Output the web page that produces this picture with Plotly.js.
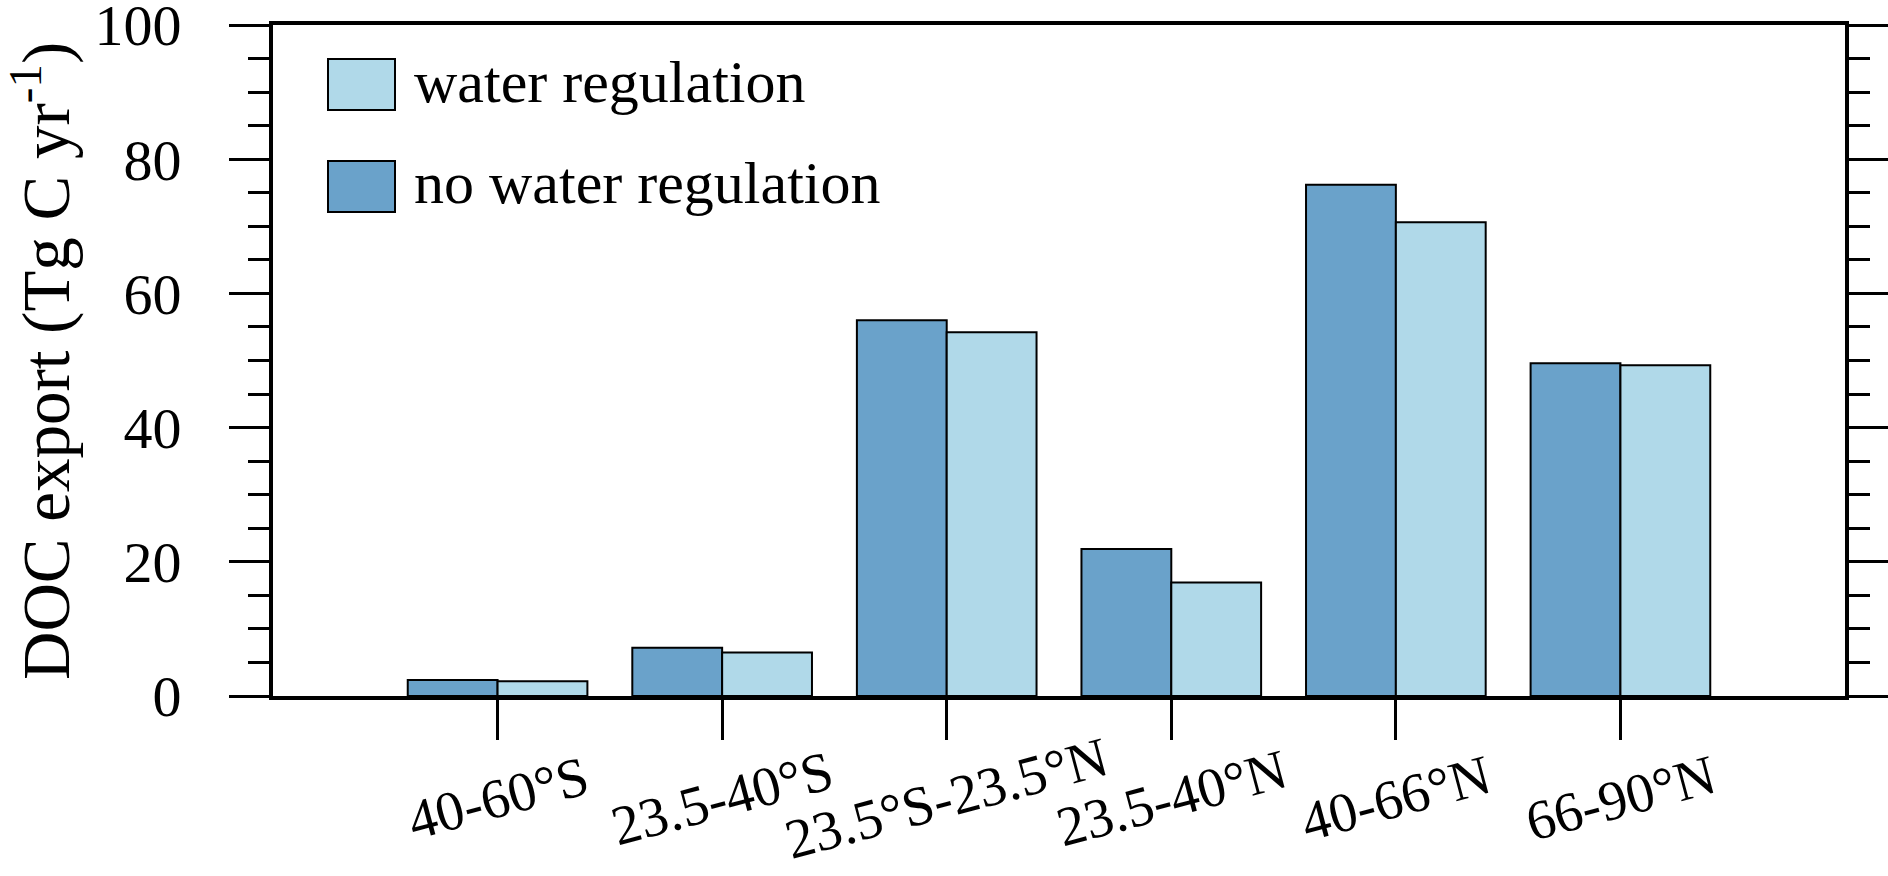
<!DOCTYPE html>
<html>
<head>
<meta charset="utf-8">
<script src="https://cdn.plot.ly/plotly-3.0.1.min.js"></script>
<style>
  html, body { margin: 0; padding: 0; background: #fff; }
  #chart { width: 1888px; height: 876px; }
</style>
</head>
<body>
<div id="chart"></div>
<script>
// ---- data ----
const categories = ['40-60°S', '23.5-40°S', '23.5°S-23.5°N', '23.5-40°N', '40-66°N', '66-90°N'];
const noRegulation = [2.4, 7.2, 56.0, 21.9, 76.2, 49.6];
const withRegulation = [2.2, 6.5, 54.2, 16.9, 70.6, 49.3];
const seriesNames = ['no water regulation', 'water regulation'];
const yTickValues = [0, 20, 40, 60, 80, 100];
const yTitle = 'DOC export (Tg C yr<sup>-1</sup>)';

// ---- styling ----
const darkBlue = '#6aa2ca';
const lightBlue = '#b0d9e9';
const FONT = 'Liberation Serif, "Times New Roman", Times, serif';

const W = 1888, H = 876;
const m = { l: 273, r: 43, t: 25, b: 180 };
const pw = W - m.l - m.r, ph = H - m.t - m.b;
const px2x = p => (p - m.l) / pw;
const py2y = p => 1 - (p - m.t) / ph;

const traces = [
  {
    type: 'bar', name: seriesNames[0], x: categories, y: noRegulation,
    marker: { color: darkBlue, line: { color: '#000', width: 2 } },
    showlegend: false, hoverinfo: 'x+y+name'
  },
  {
    type: 'bar', name: seriesNames[1], x: categories, y: withRegulation,
    marker: { color: lightBlue, line: { color: '#000', width: 2 } },
    showlegend: false, hoverinfo: 'x+y+name'
  }
];

// custom legend (large swatches like the original)
const legendRows = [
  { name: seriesNames[1], color: lightBlue, top: 59, bottom: 110 },
  { name: seriesNames[0], color: darkBlue, top: 161, bottom: 212 }
];
const shapes = legendRows.map(r => ({
  type: 'rect', xref: 'paper', yref: 'paper',
  x0: px2x(328), x1: px2x(395), y0: py2y(r.bottom), y1: py2y(r.top),
  fillcolor: r.color, line: { color: '#000', width: 2 }
}));

const annotations = legendRows.map(r => ({
  xref: 'paper', yref: 'paper', x: px2x(412), y: py2y((r.top + r.bottom) / 2 - 3),
  xanchor: 'left', yanchor: 'middle', showarrow: false,
  text: r.name, font: { family: FONT, size: 60, color: '#000' }
}));

// rotated category labels centred under each tick
categories.forEach(c => {
  annotations.push({
    xref: 'x', yref: 'paper', x: c, y: 0, yshift: -102,
    xanchor: 'center', yanchor: 'middle', showarrow: false, textangle: -15,
    text: c, font: { family: FONT, size: 56, color: '#000' }
  });
});

// y-axis title
annotations.push({
  xref: 'paper', yref: 'paper', x: px2x(41), y: py2y(361),
  xanchor: 'center', yanchor: 'middle', showarrow: false, textangle: -90,
  text: yTitle, font: { family: FONT, size: 67, color: '#000' }
});

const layout = {
  width: W, height: H,
  margin: m,
  paper_bgcolor: '#fff', plot_bgcolor: '#fff',
  font: { family: FONT, color: '#000' },
  barmode: 'group', bargap: 0.2, bargroupgap: 0,
  showlegend: false,
  xaxis: {
    type: 'category', range: [-1, 6],
    showgrid: false, zeroline: false,
    showline: true, linewidth: 4, linecolor: '#000', mirror: true,
    ticks: 'outside', ticklen: 40, tickwidth: 3, tickcolor: '#000',
    showticklabels: false
  },
  yaxis: {
    range: [0, 100], tickvals: yTickValues, ticktext: yTickValues.map(String),
    showgrid: false, zeroline: false,
    showline: true, linewidth: 4, linecolor: '#000', mirror: 'ticks',
    ticks: 'outside', ticklen: 40, tickwidth: 3, tickcolor: '#000',
    ticklabelstandoff: 36, ticklabeloverflow: 'allow',
    tickfont: { family: FONT, size: 58, color: '#000' },
    minor: { dtick: 5, tick0: 0, ticks: 'outside', ticklen: 21, tickwidth: 3, tickcolor: '#000', showgrid: false }
  },
  shapes: shapes,
  annotations: annotations
};

Plotly.newPlot('chart', traces, layout, { displayModeBar: false, staticPlot: true });
</script>
</body>
</html>
